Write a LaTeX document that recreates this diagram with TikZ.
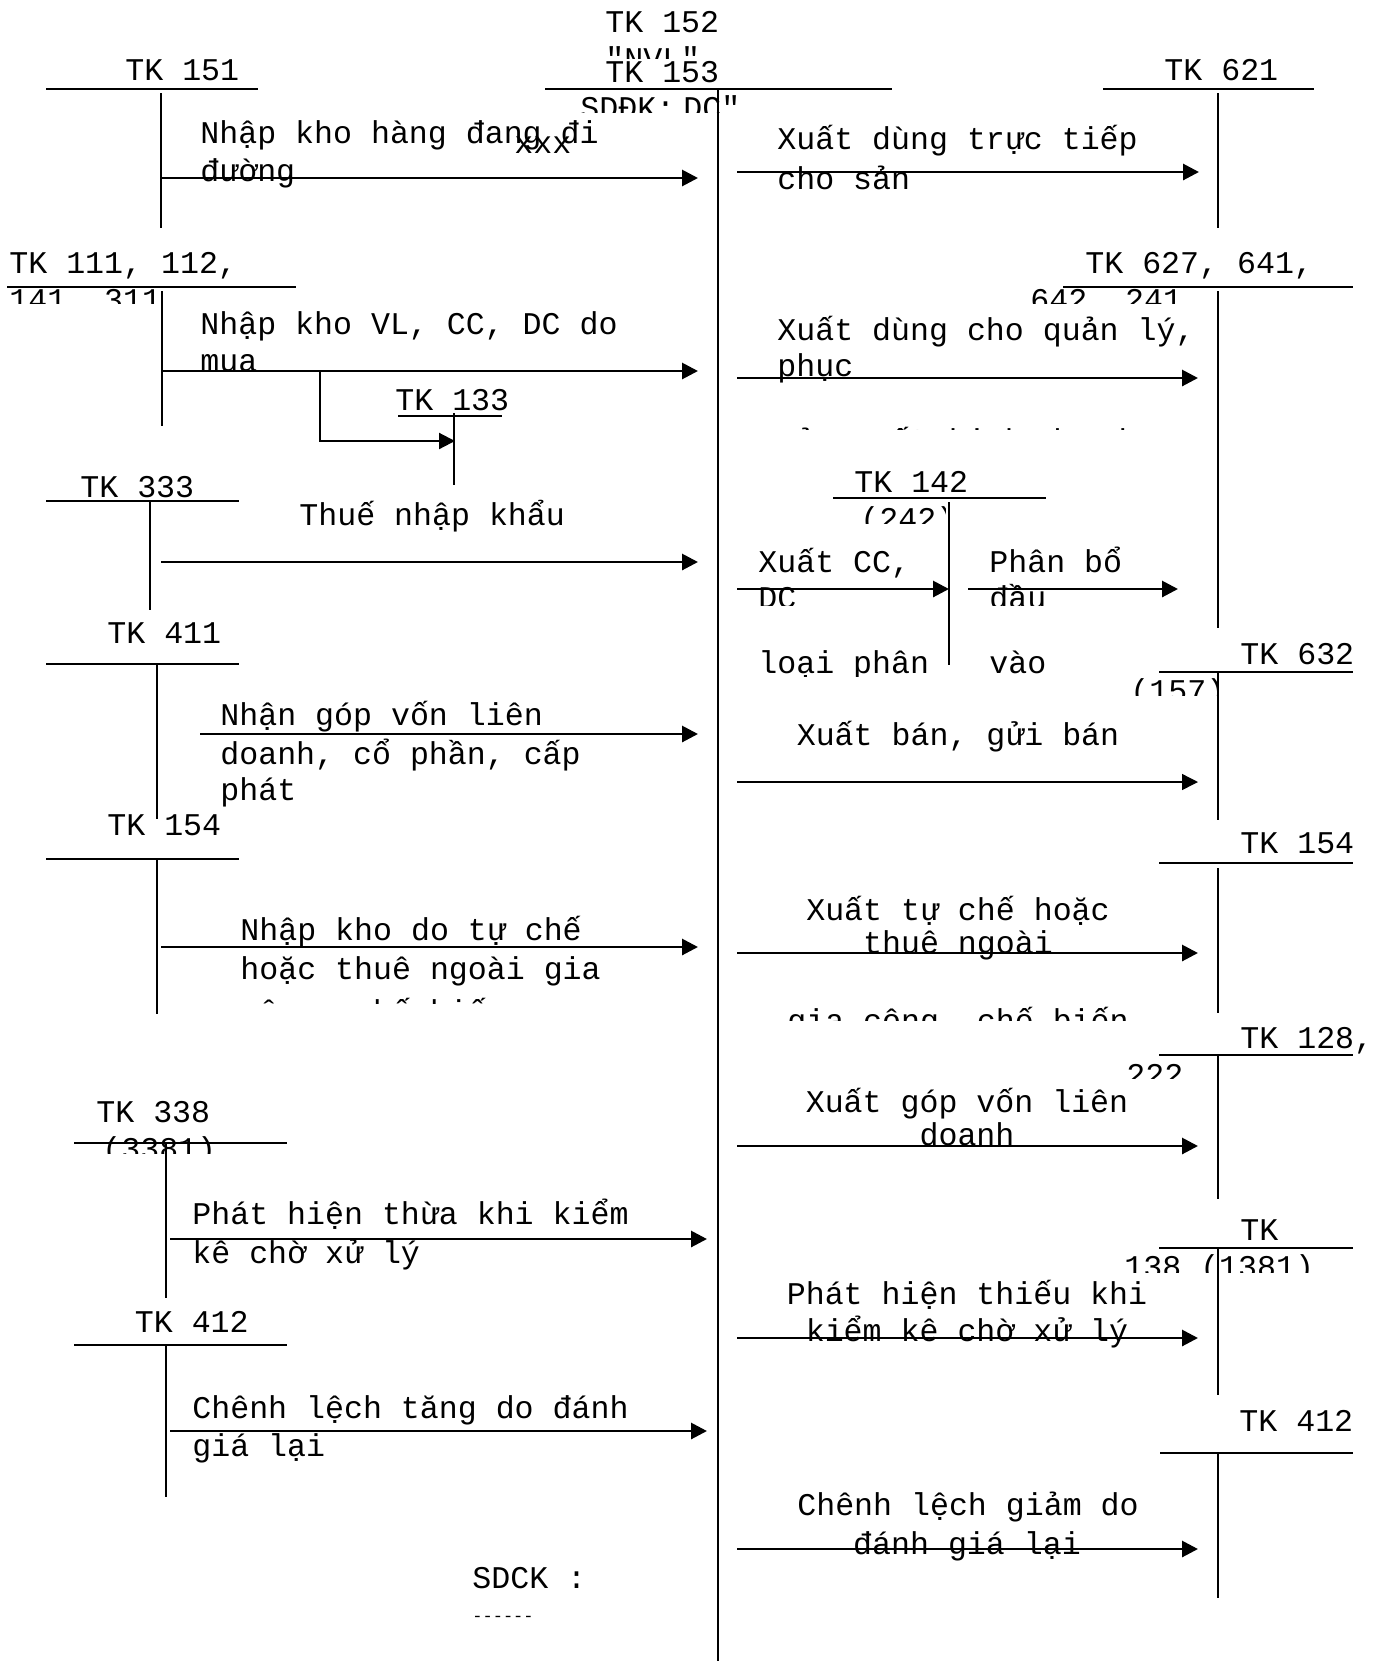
\documentclass[tikz,border=0pt]{standalone}
\usepackage{fontspec}
\usepackage{tikz}
\usetikzlibrary{arrows.meta}
\newfontfamily\tkfont{Liberation Mono}

\begin{document}
\begin{tikzpicture}[
    x=0.5pt, y=-0.5pt,
    hbar/.style={line width=1pt},
    vbar/.style={line width=0.7pt},
    flow/.style={line width=1.45pt, -{Triangle[length=8pt,width=8pt]}},
    lbl/.style={font=\tkfont\fontsize{15.8pt}{18.75pt}\selectfont, anchor=base west, inner sep=0pt},
    clbl/.style={lbl, anchor=base},
    tiny/.style={font=\tkfont\fontsize{8.5pt}{10pt}\selectfont, anchor=base west, inner sep=0pt}
]
\useasboundingbox (0,0) rectangle (1379,1661);

% Tai khoan trung tam 152, 153
\coordinate (ctop) at (718,90);
\coordinate (cbot) at (718,1661);
\draw[hbar] (545,89) -- (892,89);
\draw[line width=0.9pt] (ctop) -- (cbot);
\node[lbl] (t152) at (605,32) {TK 152};
\begin{scope}
  \clip (500,40) rectangle (760,58);
  \node[lbl] (t152b) at (605,69.5) {"NVL"};
\end{scope}
\node[lbl] (t153) at (605,82) {TK 153};
\begin{scope}
  \clip (500,92) rectangle (760,112);
  \node[lbl] (sddk) at (580,118) {SDĐK:};
  \node[lbl] (t153b) at (683,118) {DC"};
\end{scope}
\node[lbl] (sdx) at (514,153) {xxx};

% Ben trai: ghi No 152, 153
\node[lbl] (t151) at (125,80) {TK 151};
\draw[hbar] (46,89) -- (258,89);
\draw[vbar] (161,93) -- (161,228);
\node[lbl] (n1a) at (200,143) {Nhập kho hàng đang đi};
\node[lbl] (n1b) at (200,181) {đường};
\coordinate (a151) at (161,178);
\coordinate (m151) at (698,178);
\draw[flow] (a151) -- (m151);

\node[lbl] (t111) at (9,273) {TK 111, 112,};
\begin{scope}
  \clip (0,280) rectangle (300,303);
  \node[lbl] (t111b) at (9,310.5) {141, 311};
\end{scope}
\draw[hbar] (7,287) -- (296,287);
\draw[vbar] (162,291) -- (162,426);
\node[lbl] (n2a) at (200,334) {Nhập kho VL, CC, DC do};
\begin{scope}
  \clip (190,340) rectangle (400,369);
  \node[lbl] (n2b) at (200,371.5) {mua};
\end{scope}
\coordinate (a111) at (161,371);
\coordinate (m111) at (698,371);
\draw[flow] (a111) -- (m111);

\node[lbl] (t133) at (395,410) {TK 133};
\draw[hbar] (398,416) -- (502,416);
\draw[vbar] (454,413) -- (454,485);
\coordinate (b111) at (320,371);
\coordinate (e133) at (455,441);
\draw[flow, line width=1.1pt] (b111) |- (e133);

\node[lbl] (t333) at (80,497) {TK 333};
\draw[hbar] (46,501) -- (239,501);
\draw[vbar] (150,501) -- (150,610);
\node[lbl] (n3) at (299,525) {Thuế nhập khẩu};
\coordinate (a333) at (161,562);
\coordinate (m333) at (698,562);
\draw[flow] (a333) -- (m333);

\node[lbl] (t411) at (107,643) {TK 411};
\draw[hbar] (46,664) -- (239,664);
\draw[vbar] (157,664) -- (157,819);
\node[lbl] (n4a) at (220,725) {Nhận góp vốn liên};
\node[lbl] (n4b) at (220,764) {doanh, cổ phần, cấp};
\node[lbl] (n4c) at (220,800) {phát};
\coordinate (a411) at (200,734);
\coordinate (m411) at (698,734);
\draw[flow] (a411) -- (m411);

\node[lbl] (t154) at (107,835) {TK 154};
\draw[hbar] (46,859) -- (239,859);
\draw[vbar] (157,859) -- (157,1014);
\node[lbl] (n5a) at (240,940) {Nhập kho do tự chế};
\node[lbl] (n5b) at (240,979) {hoặc thuê ngoài gia};
\begin{scope}
  \clip (230,985) rectangle (700,1003);
  \node[lbl] (n5c) at (240,1022) {công, chế biến};
\end{scope}
\coordinate (a154) at (161,947);
\coordinate (m154) at (698,947);
\draw[flow] (a154) -- (m154);

\node[lbl] (t338) at (96,1122) {TK 338};
\begin{scope}
  \clip (60,1130) rectangle (300,1153);
  \node[lbl] (t338b) at (102,1159.5) {(3381)};
\end{scope}
\draw[hbar] (74,1143) -- (287,1143);
\draw[vbar] (166,1143) -- (166,1298);
\node[lbl] (n6a) at (192,1224) {Phát hiện thừa khi kiểm};
\node[lbl] (n6b) at (192,1263) {kê chờ xử lý};
\coordinate (a338) at (170,1239);
\coordinate (m338) at (707,1239);
\draw[flow] (a338) -- (m338);

\node[lbl] (t412) at (134.5,1332) {TK 412};
\draw[hbar] (74,1345) -- (287,1345);
\draw[vbar] (166,1345) -- (166,1497);
\node[lbl] (n7a) at (192,1418) {Chênh lệch tăng do đánh};
\node[lbl] (n7b) at (192,1456) {giá lại};
\coordinate (a412) at (170,1431);
\coordinate (m412) at (707,1431);
\draw[flow] (a412) -- (m412);

\node[lbl] (sdck) at (472,1588) {SDCK :};
\node[tiny] (sdckv) at (472,1621) {------};

% Ben phai: ghi Co 152, 153
\node[lbl] (t621) at (1164,80) {TK 621};
\draw[hbar] (1103,89) -- (1314,89);
\draw[vbar] (1218,93) -- (1218,228);
\node[lbl] (x1a) at (777,149) {Xuất dùng trực tiếp};
\node[lbl] (x1b) at (777,189) {cho sản};
\coordinate (s621) at (737,172);
\coordinate (e621) at (1199,172);
\draw[flow] (s621) -- (e621);

\node[lbl] (t627) at (1085,273) {TK 627, 641,};
\begin{scope}
  \clip (1000,280) rectangle (1210,303);
  \node[lbl] (t627b) at (1030,310.5) {642, 241};
\end{scope}
\draw[hbar] (1063,287) -- (1353,287);
\draw[vbar] (1218,291) -- (1218,628);
\node[lbl] (x2a) at (777,340) {Xuất dùng cho quản lý,};
\node[lbl] (x2b) at (777,376) {phục};
\begin{scope}
  \clip (760,415) rectangle (1150,429);
  \node[lbl] (x2c) at (777,451) {sản xuất kinh doanh};
\end{scope}
\coordinate (s627) at (737,378);
\coordinate (e627) at (1198,378);
\draw[flow] (s627) -- (e627);

\node[lbl] (t142) at (854,492) {TK 142};
\begin{scope}
  \clip (840,502) rectangle (945,523);
  \node[lbl] (t142b) at (860,529.5) {(242)};
\end{scope}
\draw[hbar] (833,498) -- (1046,498);
\draw[vbar] (949,502) -- (949,665);
\begin{scope}
  \clip (740,540) rectangle (1200,605);
  \node[lbl] (x3a) at (758,572) {Xuất CC,};
  \node[lbl] (x3b) at (758,608) {DC};
  \node[lbl] (x4a) at (989,572) {Phân bổ};
  \node[lbl] (x4b) at (989,608) {đầu};
\end{scope}
\begin{scope}
  \clip (740,640) rectangle (1200,676);
  \node[lbl] (x3c) at (758,673) {loại phân};
  \node[lbl] (x4c) at (989,673) {vào};
\end{scope}
\coordinate (s142) at (737,589);
\coordinate (e142) at (949,589);
\draw[flow] (s142) -- (e142);
\coordinate (o142) at (968,589);
\coordinate (e142b) at (1178,589);
\draw[flow] (o142) -- (e142b);

\node[lbl] (t632) at (1240,664) {TK 632};
\begin{scope}
  \clip (1110,676) rectangle (1216,695);
  \node[lbl] (t632b) at (1130,701.5) {(157)};
\end{scope}
\draw[hbar] (1159,672) -- (1353,672);
\draw[vbar] (1218,672) -- (1218,820);
\node[clbl] (x5) at (958,745) {Xuất bán, gửi bán};
\coordinate (s632) at (737,782);
\coordinate (e632) at (1198,782);
\draw[flow, line width=0.7pt] (s632) -- (e632);
\draw[line width=1.45pt] (s632) -- ++(19,0);
\draw[line width=1.45pt] (1161,782) -- ++(25,0);

\node[lbl] (t154r) at (1240,853) {TK 154};
\draw[hbar] (1159,863) -- (1353,863);
\draw[vbar] (1218,868) -- (1218,1013);
\node[clbl] (x6a) at (958,920) {Xuất tự chế hoặc};
\node[clbl] (x6b) at (958,953) {thuê ngoài};
\begin{scope}
  \clip (760,1000) rectangle (1150,1020);
  \node[clbl] (x6c) at (958,1031) {gia công, chế biến};
\end{scope}
\coordinate (s154) at (737,953);
\coordinate (e154) at (1198,953);
\draw[flow] (s154) -- (e154);

\node[lbl] (t128) at (1240,1048) {TK 128,};
\begin{scope}
  \clip (1110,1058) rectangle (1216,1078);
  \node[lbl] (t128b) at (1126,1085.5) {222};
\end{scope}
\draw[hbar] (1159,1055) -- (1353,1055);
\draw[vbar] (1218,1055) -- (1218,1199);
\node[clbl] (x7a) at (967,1112) {Xuất góp vốn liên};
\node[clbl] (x7b) at (967,1145) {doanh};
\coordinate (s128) at (737,1146);
\coordinate (e128) at (1198,1146);
\draw[flow] (s128) -- (e128);

\node[lbl] (t138) at (1240,1240) {TK};
\begin{scope}
  \clip (1110,1252) rectangle (1330,1272);
  \node[lbl] (t138b) at (1124,1277.5) {138 (1381)};
\end{scope}
\draw[hbar] (1159,1248) -- (1353,1248);
\draw[vbar] (1218,1248) -- (1218,1395);
\node[clbl] (x8a) at (967,1304) {Phát hiện thiếu khi};
\node[clbl] (x8b) at (967,1341) {kiểm kê chờ xử lý};
\coordinate (s138) at (737,1338);
\coordinate (e138) at (1198,1338);
\draw[flow] (s138) -- (e138);

\node[lbl] (t412r) at (1239,1431) {TK 412};
\draw[hbar] (1160,1453) -- (1353,1453);
\draw[vbar] (1218,1453) -- (1218,1598);
\node[clbl] (x9a) at (968,1515) {Chênh lệch giảm do};
\node[clbl] (x9b) at (967,1554) {đánh giá lại};
\coordinate (s412) at (737,1549);
\coordinate (e412) at (1198,1549);
\draw[flow] (s412) -- (e412);

\end{tikzpicture}
\end{document}
